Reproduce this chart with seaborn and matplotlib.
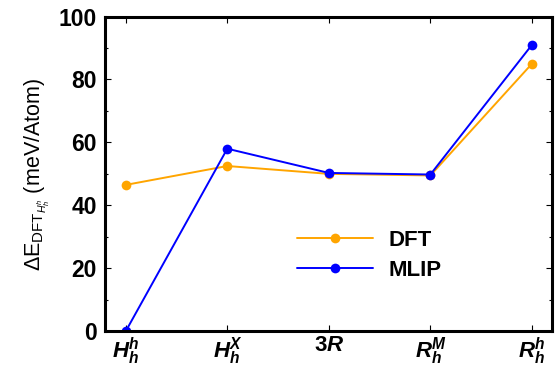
import matplotlib
matplotlib.use('Agg')
import matplotlib.pyplot as plt
import seaborn as sns
import pandas as pd
from matplotlib.ticker import MultipleLocator

phases = ['$\\mathbfit{H_h^h}$', '$\\mathbfit{H_h^X}$', '$\\mathbf{3}\\mathbfit{R}$',
          '$\\mathbfit{R_h^M}$', '$\\mathbfit{R_h^h}$']
dft = [46.5, 52.5, 50.0, 49.5, 85.0]
mlip = [0.0, 58.0, 50.3, 49.8, 91.0]

sns.set_style('ticks')
plt.rcParams['font.family'] = ['Liberation Sans', 'DejaVu Sans']
plt.rcParams['mathtext.fontset'] = 'custom'
plt.rcParams['mathtext.rm'] = 'Liberation Sans'
plt.rcParams['mathtext.it'] = 'Liberation Sans:italic'
plt.rcParams['mathtext.bf'] = 'Liberation Sans:bold'
plt.rcParams['mathtext.bfit'] = 'Liberation Sans:bold:italic'
for k in ['text.color', 'axes.labelcolor', 'xtick.color', 'ytick.color', 'axes.edgecolor']:
    plt.rcParams[k] = 'black'

df = pd.DataFrame({'x': list(range(len(phases))) * 2,
                   'E': dft + mlip,
                   'model': ['DFT'] * 5 + ['MLIP'] * 5})

fig, ax = plt.subplots(figsize=(5.55, 3.68), dpi=100)
sns.lineplot(data=df, x='x', y='E', hue='model', palette={'DFT': 'orange', 'MLIP': 'blue'},
             marker='o', markersize=7, markeredgewidth=0, linewidth=1.4, ax=ax)

ax.set_xlim(-0.2, 4.2)
ax.set_ylim(0, 100)
ax.set_xticks(range(len(phases)))
ax.set_xticklabels(phases, fontsize=16)
ax.yaxis.set_major_locator(MultipleLocator(20))
ax.yaxis.set_minor_locator(MultipleLocator(10))
for lab in ax.get_yticklabels():
    lab.set_fontweight('bold')
    lab.set_fontsize(16.5)
ax.tick_params(direction='in', top=True, right=True, which='both', length=4, width=0.8, pad=6)
ax.tick_params(axis='x', pad=3)
ax.tick_params(which='minor', length=2.5)
for s in ax.spines.values():
    s.set_linewidth(2.2)
    s.set_color('black')
ax.set_xlabel('')
ax.set_ylabel('$\\Delta\\mathrm{E}_{\\mathrm{DFT}_{\\mathit{H_h^h}}}$ (meV/Atom)', fontsize=15.5,
              labelpad=5)

leg = ax.legend(loc='lower left', bbox_to_anchor=(0.385, 0.097), frameon=False,
                prop={'weight': 'bold', 'size': 16}, handlelength=3.4, labelspacing=0.4,
                handletextpad=0.7)

plt.subplots_adjust(left=0.19, right=0.995, top=0.955, bottom=0.1)
plt.savefig('out.png')
